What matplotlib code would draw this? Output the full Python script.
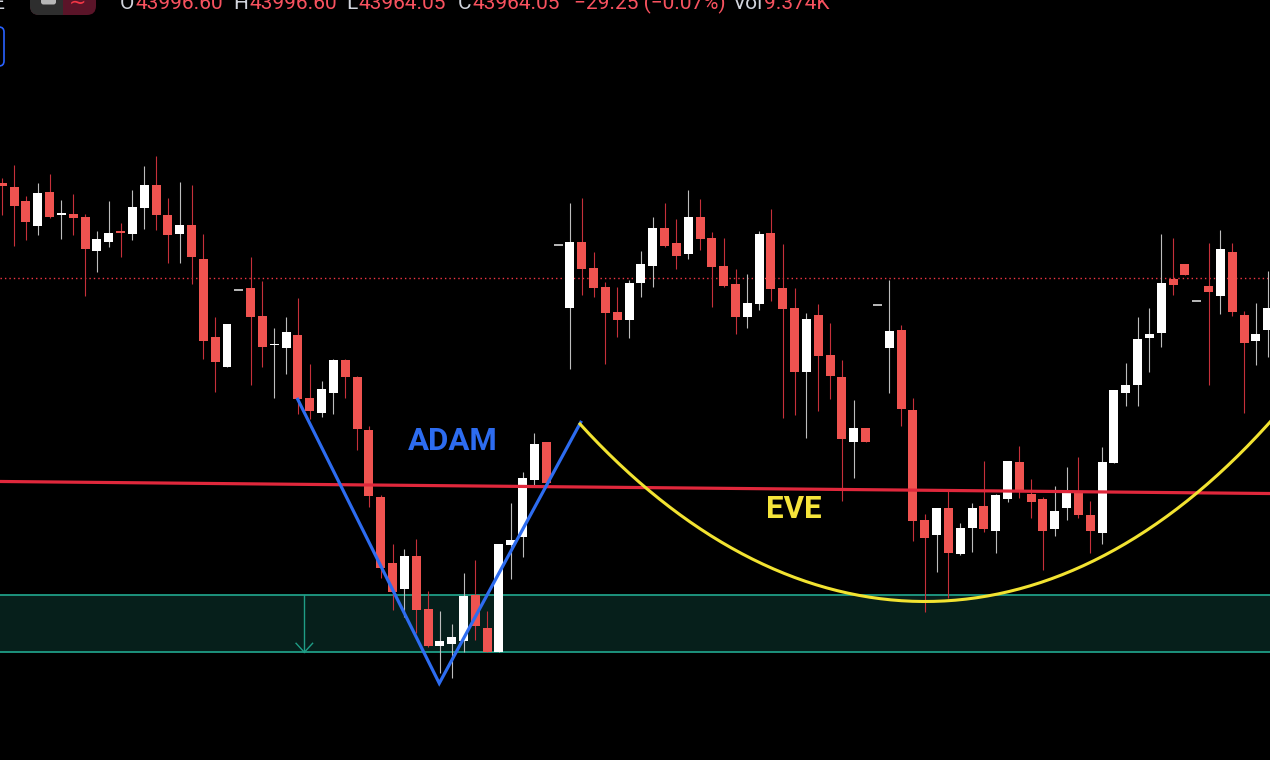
import matplotlib
matplotlib.use("Agg")
import matplotlib.pyplot as plt
import numpy as np
from matplotlib.patches import FancyBboxPatch, Rectangle

# ---- OHLC series (one entry per bar) ----
open_ = [44058.7, 44055.3, 44041.0, 44016.0, 44050.3, 44027.0, 44027.7, 44025.0, 43991.0, 44000.3,
         44010.7, 44008.3, 44033.7, 44057.0, 44026.7, 44008.3, 44017.3, 43983.0, 43904.7, 43875.5,
         43952.0, 43953.7, 43926.0, 43897.0, 43894.0, 43907.0, 43843.7, 43829.3, 43849.3, 43882.0,
         43864.7, 43811.7, 43745.3, 43678.7, 43652.7, 43686.0, 43632.7, 43596.0, 43597.7, 43601.3,
         43647.0, 43614.3, 43589.7, 43697.0, 43704.7, 43761.7, 43799.7, 43997.0, 43934.0, 44000.0,
         43973.7, 43955.0, 43929.7, 43922.0, 43959.3, 43976.3, 44014.3, 43998.7, 43988.3, 44025.3,
         44003.7, 43976.0, 43957.7, 43925.0, 43938.0, 44009.3, 43953.7, 43933.7, 43870.3, 43927.0,
         43887.5, 43864.7, 43800.0, 43814.3, 43937.3, 43894.0, 43912.3, 43831.7, 43721.7, 43707.3,
         43733.7, 43688.3, 43713.7, 43736.3, 43711.3, 43742.7, 43779.7, 43748.0, 43742.7, 43712.7,
         43733.7, 43751.0, 43727.0, 43708.7, 43778.7, 43849.0, 43857.0, 43903.7, 43908.7, 43963.0,
         43977.7, 43941.3, 43956.3, 43945.7, 43989.7, 43927.3, 43901.0, 43911.7]
high = [44063.7, 44077.0, 44046.3, 44058.7, 44067.7, 44042.3, 44047.7, 44027.7, 44010.7, 44041.0,
        44018.7, 44051.7, 44075.7, 44086.3, 44043.7, 44059.7, 44057.0, 44008.0, 43924.7, 43917.7,
        43952.0, 43985.3, 43961.3, 43913.7, 43924.7, 43944.3, 43878.0, 43861.0, 43883.3, 43883.3,
        43866.0, 43816.0, 43746.7, 43697.7, 43692.7, 43703.0, 43651.3, 43631.3, 43618.3, 43668.7,
        43682.0, 43631.3, 43697.7, 43738.7, 43770.3, 43809.3, 43799.7, 43997.0, 44038.7, 44043.7,
        43989.7, 43960.3, 43955.0, 43962.0, 43991.0, 44025.3, 44038.7, 44022.7, 44052.0, 44042.7,
        44009.7, 44004.0, 43972.7, 43968.0, 44010.7, 44033.0, 43997.7, 43953.7, 43928.7, 43937.7,
        43919.0, 43882.0, 43842.3, 43814.3, 43937.3, 43961.7, 43916.7, 43843.7, 43728.3, 43733.7,
        43752.0, 43718.7, 43738.7, 43781.3, 43748.0, 43781.3, 43796.0, 43762.7, 43745.3, 43756.0,
        43774.7, 43785.3, 43741.3, 43794.7, 43851.7, 43879.3, 43925.3, 43933.7, 44008.0, 44003.7,
        43977.7, 43941.3, 43998.7, 44012.0, 43998.7, 43931.3, 43939.0, 43971.0]
low = [44027.0, 43996.3, 44001.7, 44007.0, 44024.3, 44003.0, 44007.0, 43946.0, 43969.7, 43994.7,
       43985.3, 44001.7, 44013.3, 44012.0, 43979.0, 43978.7, 43957.7, 43882.7, 43850.5, 43875.5,
       43952.0, 43857.0, 43875.3, 43843.7, 43867.7, 43828.0, 43822.7, 43825.3, 43828.0, 43843.7,
       43792.0, 43735.3, 43663.7, 43632.0, 43625.3, 43609.5, 43595.3, 43569.3, 43564.3, 43589.7,
       43602.0, 43590.3, 43589.7, 43663.3, 43684.7, 43756.3, 43758.7, 43997.0, 43873.0, 43947.0,
       43945.3, 43878.3, 43904.7, 43903.7, 43944.7, 43955.3, 43994.7, 43972.7, 43983.0, 43992.3,
       43935.3, 43955.3, 43907.7, 43914.3, 43931.7, 43941.0, 43824.3, 43827.0, 43804.3, 43831.0,
       43842.7, 43741.0, 43764.3, 43800.0, 43937.3, 43849.3, 43816.3, 43701.0, 43630.3, 43670.3,
       43643.7, 43687.0, 43690.3, 43710.0, 43688.7, 43740.3, 43744.0, 43724.3, 43672.0, 43706.0,
       43722.0, 43724.3, 43688.7, 43698.0, 43778.7, 43836.0, 43836.0, 43870.3, 43895.3, 43947.0,
       43967.0, 43941.3, 43857.0, 43928.3, 43926.0, 43829.3, 43877.0, 43885.3]
close = [44056.3, 44036.3, 44020.3, 44049.0, 44025.3, 44029.3, 44024.3, 43992.7, 44002.7, 44009.3,
         44008.7, 44034.7, 44057.0, 44027.0, 44007.0, 44017.3, 43984.7, 43901.0, 43879.7, 43917.7,
         43952.0, 43924.7, 43895.3, 43898.0, 43910.0, 43842.7, 43831.0, 43852.7, 43882.0, 43865.3,
         43813.3, 43746.0, 43674.3, 43650.3, 43686.0, 43632.0, 43596.0, 43600.7, 43605.0, 43646.3,
         43616.0, 43590.3, 43697.7, 43702.0, 43764.3, 43798.3, 43758.7, 43997.0, 44000.0, 43972.7,
         43953.7, 43928.7, 43922.0, 43959.0, 43977.7, 44014.3, 43996.3, 43985.7, 44025.3, 44003.0,
         43975.0, 43956.3, 43925.0, 43939.0, 44008.0, 43953.0, 43933.0, 43870.3, 43923.3, 43886.3,
         43866.5, 43803.0, 43814.3, 43800.0, 43937.3, 43911.3, 43833.3, 43720.7, 43703.7, 43733.7,
         43688.7, 43713.7, 43733.7, 43712.7, 43747.0, 43781.3, 43750.3, 43740.3, 43711.3, 43731.0,
         43751.0, 43727.0, 43711.3, 43779.7, 43851.7, 43856.7, 43903.3, 43908.3, 43959.0, 43956.7,
         43967.0, 43941.3, 43950.0, 43993.3, 43930.0, 43899.3, 43908.3, 43933.7]

# ---- chart drawings ----
last_price = 43964.0
trend_x = [0.0, 107.0]
trend_y = [43760.5, 43748.5]
zone_top, zone_bottom = 43647.0, 43589.7
zone_arrow_x = 25.54
adam_x = [24.98, 36.95, 48.91]
adam_y = [43842.7, 43558.7, 43819.7]
eve_ctrl_x = [48.85, 67.03, 89.0, 107.2]
eve_ctrl_y = [43818.0, 43582.0, 43580.0, 43820.0]
adam_label = (38.11, 43800.7)
eve_label = (66.95, 43733.0)

# ---- header values: (label, value, label x, value x) ----
hdr_items = [("O", "43996.60", 135.5), ("H", "43996.60", 249.3),
             ("L", "43964.05", 358.8), ("C", "43964.05", 472.6),
             ("", "\u221229.25 (\u22120.07%)", 574.5), ("Vol", "9.374K", 764.2)]

UP_BODY = "#ffffff"
UP_WICK = "#bdbdbd"
DN_BODY = "#ef5350"
DN_WICK = "#c7303a"
FLAT = "#b4b4b4"
BG = "#000000"
ZONE_EDGE = "#1f9d86"

W, H = 1270, 760
fig = plt.figure(figsize=(W / 100, H / 100), dpi=100, facecolor=BG)
ax = fig.add_axes([0, 0, 1, 1])
ax.set_facecolor(BG)
ax.set_xlim(-0.1945, 107.196)
ax.set_ylim(43482, 44242)
ax.axis("off")

o = np.array(open_); h = np.array(high); l = np.array(low); c = np.array(close)
idx = np.arange(len(o))
up = c > o
dn = c < o
flat = c == o

# wicks
ax.vlines(idx[up], l[up], h[up], color=UP_WICK, lw=0.8, zorder=3)
ax.vlines(idx[dn], l[dn], h[dn], color=DN_WICK, lw=0.8, zorder=3)

# bodies
bw = 0.76
bottom = np.minimum(o, c)
height = np.maximum(np.abs(c - o), 1.2)
ax.bar(idx[up], height[up], bw, bottom=bottom[up], color=UP_BODY, lw=0, zorder=4)
ax.bar(idx[dn], height[dn], bw, bottom=bottom[dn], color=DN_BODY, lw=0, zorder=4)
ax.bar(idx[flat], 1.6, bw, bottom=bottom[flat] - 0.8, color=FLAT, lw=0, zorder=4)

# last price dotted line
ax.axhline(last_price, color="#f23645", lw=1.0, ls=(0, (1, 2.2)), zorder=2)

# demand zone with down marker
ax.axhspan(zone_bottom, zone_top, color="#061f1b", zorder=1, lw=0)
for yv in (zone_top, zone_bottom):
    ax.axhline(yv, color=ZONE_EDGE, lw=1.3, zorder=2)
ax.plot([zone_arrow_x, zone_arrow_x], [zone_top, zone_bottom], color=ZONE_EDGE, lw=1.0, zorder=2)
ax.plot([zone_arrow_x - 0.7, zone_arrow_x, zone_arrow_x + 0.7],
        [zone_bottom + 9, zone_bottom, zone_bottom + 9], color=ZONE_EDGE, lw=1.0, zorder=2)

# sloped resistance line
ax.axline((trend_x[0], trend_y[0]), (trend_x[1], trend_y[1]), color="#e0283c", lw=2.3, zorder=6)

# ADAM leg
ax.plot(adam_x, adam_y, color="#2d6cf0", lw=2.3, zorder=7, solid_joinstyle="miter")

# EVE rounded base (cubic Bezier)
t = np.linspace(0, 1, 200)
bx = ((1 - t) ** 3 * eve_ctrl_x[0] + 3 * (1 - t) ** 2 * t * eve_ctrl_x[1]
      + 3 * (1 - t) * t ** 2 * eve_ctrl_x[2] + t ** 3 * eve_ctrl_x[3])
by = ((1 - t) ** 3 * eve_ctrl_y[0] + 3 * (1 - t) ** 2 * t * eve_ctrl_y[1]
      + 3 * (1 - t) * t ** 2 * eve_ctrl_y[2] + t ** 3 * eve_ctrl_y[3])
ax.plot(bx, by, color="#f2e331", lw=2.2, zorder=7)

ax.text(*adam_label, "ADAM", color="#2d6cf0", fontsize=22.5, fontweight="bold",
        family=["Roboto", "DejaVu Sans"], ha="center", va="center", zorder=8)
ax.text(*eve_label, "EVE", color="#f5e43a", fontsize=22.5, fontweight="bold",
        family=["Roboto", "DejaVu Sans"], ha="center", va="center", zorder=8)

# ---- header / toolbar overlay in pixel units ----
ui = fig.add_axes([0, 0, 1, 1], facecolor="none")
ui.set_xlim(0, W)
ui.set_ylim(H, 0)
ui.axis("off")

hdr_font = dict(fontsize=15, family=["Roboto", "DejaVu Sans"], va="baseline")
for lbl, val, xv in hdr_items:
    if lbl:
        ui.text(xv - 1.5, 9, lbl, color="#d1d4dc", ha="right", **hdr_font)
    ui.text(xv, 9, val, color="#f7525f", ha="left", **hdr_font)
ui.text(4, 9, "E", color="#d1d4dc", ha="right", **hdr_font)

# symbol toggle icon
ui.add_patch(FancyBboxPatch((30, -20), 66, 35, boxstyle="round,pad=0,rounding_size=9",
                            facecolor="#5a1428", edgecolor="none"))
ui.add_patch(FancyBboxPatch((30, -20), 40, 35, boxstyle="round,pad=0,rounding_size=9",
                            facecolor="#2e2e2e", edgecolor="none"))
ui.add_patch(Rectangle((58, -20), 5, 35, facecolor="#2e2e2e", edgecolor="none"))
ui.add_patch(Rectangle((63, -20), 9, 35, facecolor="#5a1428", edgecolor="none"))
ui.add_patch(FancyBboxPatch((41, -8), 15, 12.5, boxstyle="round,pad=0,rounding_size=2.5",
                            facecolor="#b7b7b7", edgecolor="none"))
ui.text(78, 1, "\u2248", color="#f23645", fontsize=15, ha="center", va="center",
        family=["DejaVu Sans"])

# side button outline
ui.add_patch(FancyBboxPatch((-20, 27), 24, 39, boxstyle="round,pad=0,rounding_size=5",
                            facecolor="none", edgecolor="#2962ff", lw=1.2))

fig.savefig("out.png", dpi=100, facecolor=BG)
